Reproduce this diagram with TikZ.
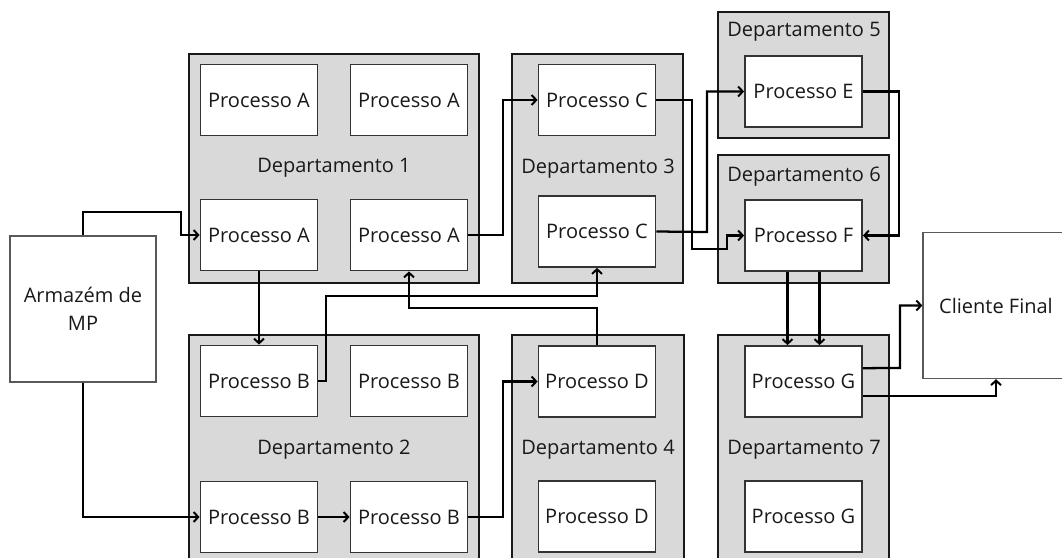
\documentclass[tikz,border=0pt]{standalone}
\usepackage{fontspec}
\setmainfont{Open Sans}
\usetikzlibrary{arrows.meta,fit}

\tikzset{
  dept/.style={draw=black!90, fill=black!15, line width=1.8pt, inner sep=0pt},
  deptlabel/.style={font=\fontsize{15}{21}\selectfont, text=black!90, inner sep=0pt},
  proc/.style={draw=black!80, fill=white, line width=1.1pt,
    minimum width=88pt, minimum height=53.5pt, inner sep=0pt,
    font=\fontsize{15}{21}\selectfont, text=black!90},
  endpoint/.style={draw=black!65, fill=white, line width=1pt,
    minimum width=109.5pt, minimum height=109.5pt, inner sep=0pt,
    align=center, font=\fontsize{15}{21}\selectfont, text=black!90},
  conn/.style={draw=black, line width=1.7pt,
    -{Straight Barb[length=3.5pt,width=7.5pt,line width=1.5pt]}}
}

\begin{document}
\begin{tikzpicture}[x=0.75pt, y=-0.75pt]
\useasboundingbox (0,0) rectangle (1062,557);
\clip (0,0) rectangle (1062,557);

% departments
\node[dept, fit={(189,54) (479,283)}] (dep1) {};
\node[dept, fit={(189,335) (479,565)}] (dep2) {};
\node[dept, fit={(512,54) (683,283)}] (dep3) {};
\node[dept, fit={(512,335) (684,565)}] (dep4) {};
\node[dept, fit={(718,12) (889,138)}] (dep5) {};
\node[dept, fit={(718,155) (889,283)}] (dep6) {};
\node[dept, fit={(718,335) (889,565)}] (dep7) {};

\node[deptlabel] (lab1) at (334,168) {Departamento 1};
\node[deptlabel] (lab2) at (334,450) {Departamento 2};
\node[deptlabel] (lab3) at (598,169) {Departamento 3};
\node[deptlabel] (lab4) at (598,450) {Departamento 4};
\node[deptlabel] (lab5) at (804,32) {Departamento 5};
\node[deptlabel] (lab6) at (804,177) {Departamento 6};
\node[deptlabel] (lab7) at (804,450) {Departamento 7};

% processes
\node[proc] (A1) at (259,100) {Processo A};
\node[proc] (A2) at (409,100) {Processo A};
\node[proc] (A3) at (259,235) {Processo A};
\node[proc] (A4) at (409,235) {Processo A};

\node[proc] (B1) at (259,381) {Processo B};
\node[proc] (B2) at (409,381) {Processo B};
\node[proc] (B3) at (259,517) {Processo B};
\node[proc] (B4) at (409,517) {Processo B};

\node[proc] (C1) at (597,100) {Processo C};
\node[proc] (C2) at (597,231.5) {Processo C};

\node[proc] (D1) at (597,381.5) {Processo D};
\node[proc] (D2) at (597,516.5) {Processo D};

\node[proc] (E)  at (803.5,91.5) {Processo E};
\node[proc] (F)  at (803.5,235.5) {Processo F};

\node[proc] (G1) at (803.5,381.5) {Processo G};
\node[proc] (G2) at (803.5,516.5) {Processo G};

% source and sink
\node[endpoint] (arm) at (83,309) {Armazém de\\MP};
\node[endpoint] (cli) at (996,305.5) {Cliente Final};

% material flow
\draw[conn] (arm.north) |- (181,212) |- (A3.west);
\draw[conn] (arm.south) |- (B3.west);
\draw[conn] (A3.south) -- (B1.north);
\draw[conn] (A4.east) -- (503,235) |- (C1.west);
\draw[conn] (B1.east) -| (326,296) -| (C2.south);
\draw[conn] (D1.north) -- (597,308) -| (A4.south);
\draw[conn] (B3.east) -- (B4.west);
\draw[conn] (B4.east) -- (503,517) |- (D1.west);
\draw[conn] (C1.east) -| (692,249) -| (727,235.5) -- (F.west);
\draw[conn] (C2.east) -- (707,232) |- (E.west);
\draw[conn] (E.east) -- (899,91.5) |- (F.east);
\draw[conn] ([xshift=-12pt]F.south) -- ([xshift=-12pt]G1.north);
\draw[conn] ([xshift=12pt]F.south) -- ([xshift=12pt]G1.north);
\draw[conn] ([yshift=10pt]G1.east) -- (900,368) |- (cli.west);
\draw[conn] ([yshift=-11pt]G1.east) -| (cli.south);
\end{tikzpicture}
\end{document}
